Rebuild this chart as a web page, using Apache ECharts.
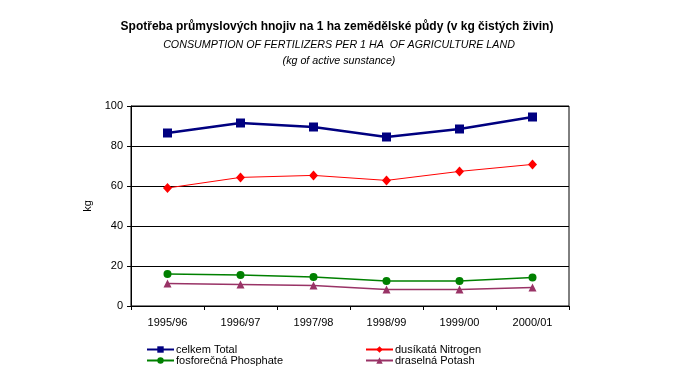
<!DOCTYPE html>
<html><head><meta charset="utf-8">
<script src="https://cdn.jsdelivr.net/npm/echarts@6/dist/echarts.min.js"></script>
<style>html,body{margin:0;padding:0;background:#fff}#c{width:675px;height:380px}</style>
</head><body><div id="c"></div>
<script>
var categories = ['1995/96','1996/97','1997/98','1998/99','1999/00','2000/01'];
var total = [86.5, 91.5, 89.5, 84.5, 88.5, 94.5];
var nitrogen = [59.0, 64.3, 65.3, 62.8, 67.3, 70.8];
var phosphate = [16.0, 15.5, 14.5, 12.5, 12.5, 14.2];
var potash = [11.2, 10.7, 10.2, 8.2, 8.2, 9.2];
var yTicks = [0, 20, 40, 60, 80, 100];
var names = ['celkem Total','dusíkatá Nitrogen','fosforečná Phosphate','draselná Potash'];

var F = 'Liberation Sans, Arial, sans-serif';
var chart = echarts.init(document.getElementById('c'));
function leg(name, left, top){
  return {data:[name], left:left, top:top, itemWidth:27, itemHeight:8, itemGap:0,
    padding:0, selectedMode:false, textStyle:{fontFamily:F, fontSize:11, color:'#000', padding:[0,0,0,-3]}};
}
chart.setOption({
  animation:false,
  title:[
    {text:'Spotřeba průmyslových hnojiv na 1 ha zemědělské půdy (v kg čistých živin)', left:332, textAlign:'center', top:16,
     textStyle:{fontFamily:F, fontSize:12, fontWeight:'bold', color:'#000'}},
    {text:'CONSUMPTION OF FERTILIZERS PER 1 HA  OF AGRICULTURE LAND', left:334, textAlign:'center', top:35,
     textStyle:{fontFamily:F, fontSize:10.7, fontStyle:'italic', fontWeight:'normal', color:'#000'}},
    {text:'(kg of active sunstance)', left:334, textAlign:'center', top:51,
     textStyle:{fontFamily:F, fontSize:10.7, fontStyle:'italic', fontWeight:'normal', color:'#000'}}
  ],
  legend:[leg(names[0],146,344), leg(names[1],365,344), leg(names[2],146,355), leg(names[3],365,355)],
  grid:{left:131, right:106, top:106, bottom:74, show:true, borderColor:'#000', borderWidth:1, backgroundColor:'transparent'},
  xAxis:{type:'category', data:categories, boundaryGap:true,
    axisLine:{lineStyle:{color:'#000', width:1}},
    axisTick:{show:true, length:4, lineStyle:{color:'#000'}},
    axisLabel:{fontFamily:F, fontSize:11, color:'#000', margin:11}},
  yAxis:{type:'value', min:yTicks[0], max:yTicks[yTicks.length-1], interval:20,
    name:'kg', nameLocation:'middle', nameGap:32, nameRotate:90,
    nameTextStyle:{fontFamily:F, fontSize:11, color:'#000'},
    axisLine:{show:true, lineStyle:{color:'#000'}},
    axisTick:{show:true, length:4, lineStyle:{color:'#000'}},
    axisLabel:{fontFamily:F, fontSize:11, color:'#000', margin:8},
    splitLine:{lineStyle:{color:'#000', width:1}}},
  series:[
    {name:names[0], type:'line', data:total, symbol:'rect', symbolSize:9,
     lineStyle:{color:'#000080', width:2.5}, itemStyle:{color:'#000080'}},
    {name:names[1], type:'line', data:nitrogen, symbol:'diamond', symbolSize:[9,10],
     lineStyle:{color:'#ff0000', width:1}, itemStyle:{color:'#ff0000'}},
    {name:names[2], type:'line', data:phosphate, symbol:'circle', symbolSize:8,
     lineStyle:{color:'#008000', width:1.5}, itemStyle:{color:'#008000'}},
    {name:names[3], type:'line', data:potash, symbol:'triangle', symbolSize:[8,8],
     lineStyle:{color:'#993366', width:1.5}, itemStyle:{color:'#993366'}}
  ]
});
</script></body></html>
